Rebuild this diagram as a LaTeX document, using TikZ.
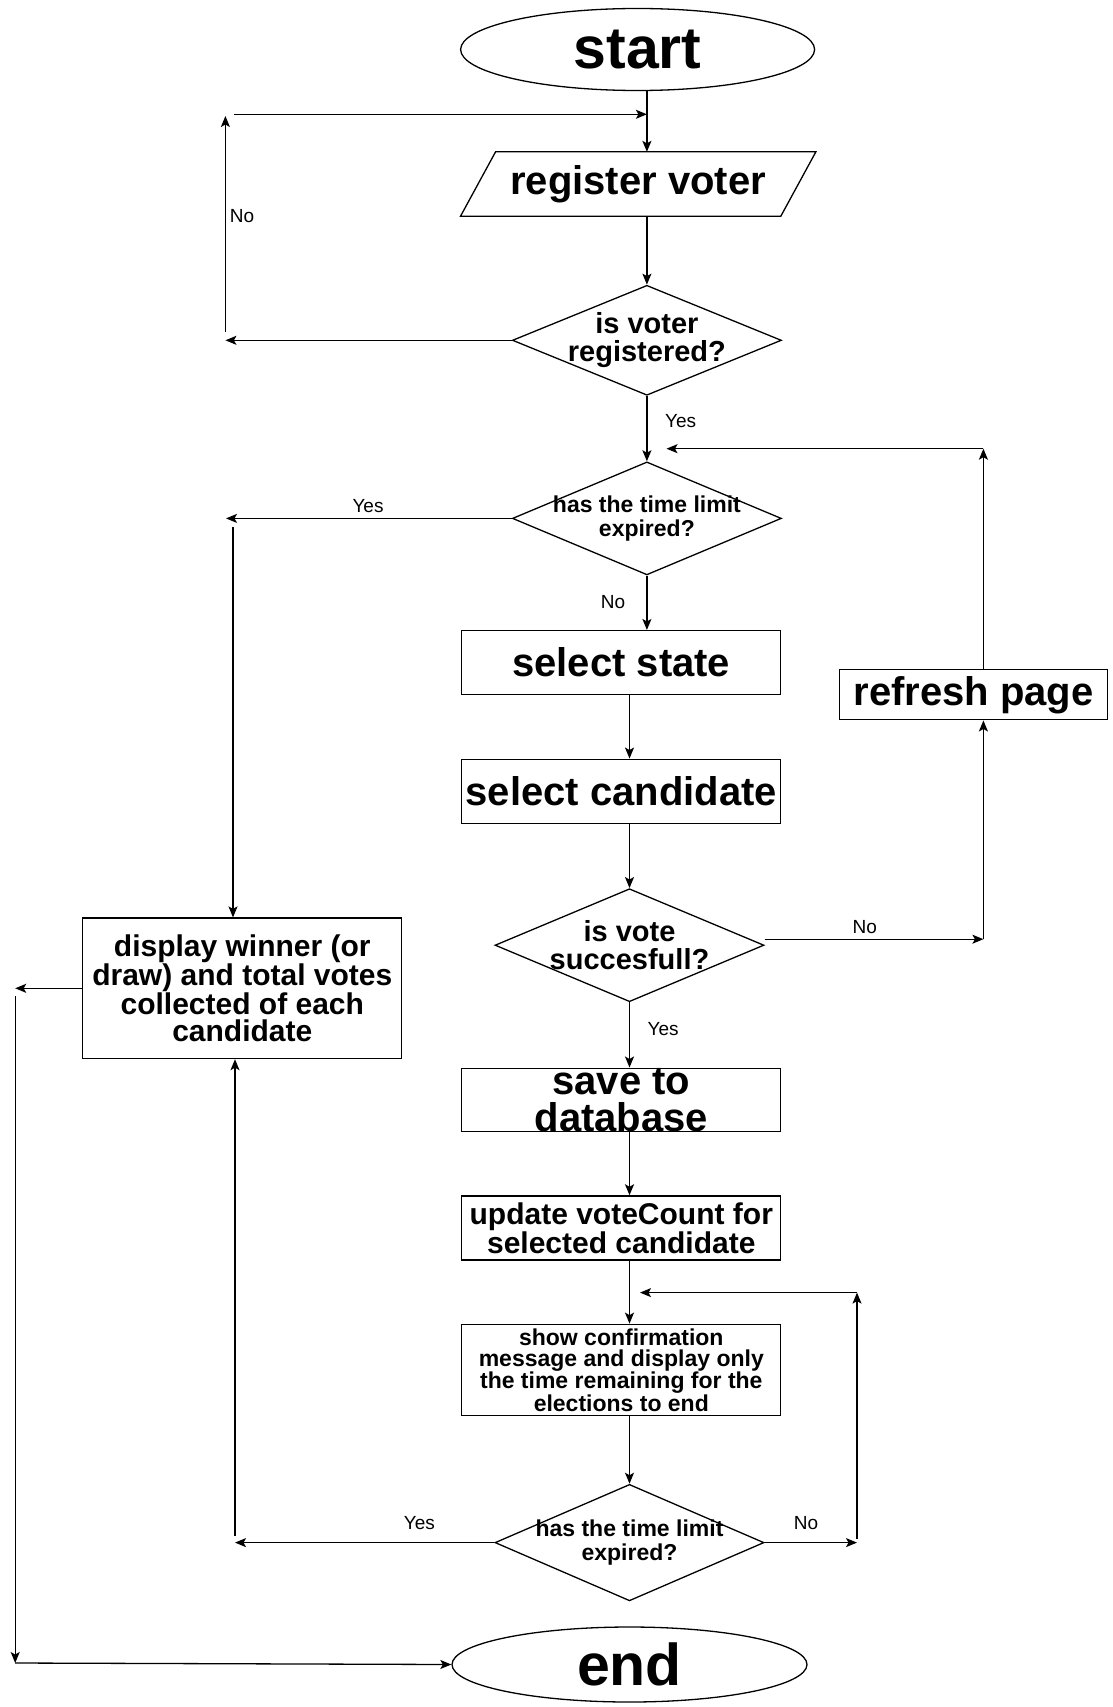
\documentclass[tikz,border=0pt]{standalone}
\usepackage{fontspec}
\setmainfont{Liberation Sans}
\usetikzlibrary{shapes.geometric,arrows.meta}
\begin{document}
\begin{tikzpicture}[x=1pt,y=-1pt,
  line width=1.3pt,
  arr/.style={-{Stealth[length=11pt,width=9pt,inset=2.5pt]}},
  procbox/.style={draw, rectangle, minimum width=319pt, inner sep=0pt, align=center},
  bigtxt/.style={font=\bfseries\fontsize{40}{37}\selectfont},
  midtxt/.style={font=\bfseries\fontsize{30}{27.5}\selectfont},
  smltxt/.style={font=\bfseries\fontsize{23}{21.2}\selectfont},
  term/.style={draw, ellipse, inner sep=0pt, font=\bfseries\fontsize{59}{59}\selectfont},
  dia/.style={draw, diamond, minimum width=269pt, inner sep=0pt},
  diatxtA/.style={font=\bfseries\fontsize{29}{28}\selectfont, align=center, inner sep=0pt},
  diatxtB/.style={font=\bfseries\fontsize{23}{24}\selectfont, align=center, inner sep=0pt},
  lbl/.style={font=\fontsize{19}{19}\selectfont, inner sep=0pt},
]
\useasboundingbox (0,0) rectangle (1113,1707);
\fill[white] (0,0) rectangle (1113,1707);

% nodes
\node[term, minimum width=354pt, minimum height=82pt] (start) at (637.6,49.5) {start};
\node[inner sep=0pt, minimum width=319pt, minimum height=63pt, bigtxt] (reg) at (638.2,184) {register voter};
\draw ([xshift=17.5pt]reg.north west) -- ([xshift=17.5pt]reg.north east)
   -- ([xshift=-17.5pt]reg.south east) -- ([xshift=-17.5pt]reg.south west) -- cycle;
\node[dia, minimum height=110pt, label={[diatxtA]center:is voter\\registered?}] (d1) at (646.9,340.3) {};
\node[dia, minimum height=113pt, label={[diatxtB]center:has the time limit\\expired?}] (d2) at (646.9,518.4) {};
\node[procbox, bigtxt, minimum height=64pt] (selstate) at (621.3,662.6) {select state};
\node[procbox, bigtxt, minimum height=64pt] (selcand) at (621.3,791.2) {select candidate};
\node[dia, minimum height=113pt, label={[diatxtA]center:is vote\\succesfull?}] (d3) at (629.5,945.2) {};
\node[procbox, bigtxt, minimum width=268pt, minimum height=50pt] (refresh) at (973.5,694.8) {refresh page};
\node[procbox, bigtxt, minimum height=63pt] (save) at (621.3,1099.9) {save to\\database};
\node[procbox, midtxt, minimum height=64pt] (update) at (621.3,1227.9) {update voteCount for\\selected candidate};
\node[procbox, smltxt, minimum height=91.5pt] (show) at (621.3,1370) {show confirmation\\message and display only\\the time remaining for the\\elections to end};
\node[dia, minimum height=116.5pt, label={[diatxtB]center:has the time limit\\expired?}] (d4) at (629.5,1542.6) {};
\node[term, minimum width=355pt, minimum height=75pt] (end) at (629.5,1664.5) {end};
\node[procbox, midtxt, minimum height=140.5pt] (display) at (242.3,988.3) {display winner (or\\draw) and total votes\\collected of each\\candidate};

% helper coordinates
\coordinate (L1b) at (225.4,332);
\coordinate (L1t) at (225.4,116);
\coordinate (T1s) at (234,114.3);
\coordinate (T1e) at (646.9,114.3);
\coordinate (Y2tip) at (226,518.4);
\coordinate (L2t) at (233,527);
\coordinate (R1b) at (983.4,939);
\coordinate (R1t) at (983.4,448.7);
\coordinate (R1tip) at (666.5,448.7);
\coordinate (R2b) at (857,1538.7);
\coordinate (R2t) at (857,1292.6);
\coordinate (R2tip) at (640,1292.6);
\coordinate (Y4tip) at (235,1542.6);
\coordinate (L3b) at (235,1535.5);
\coordinate (FLtip) at (15.2,989);
\coordinate (FLt) at (15.2,996);
\coordinate (FLb) at (15.2,1663);

% main flow
\draw[arr] (start.south -| d1.north) -- (reg.north -| d1.north);
\draw[arr] (reg.south -| d1.north) -- (d1.north);
\draw[arr] (d1.south) -- (d2.north);
\draw[arr] (d2.south) -- (d2.south |- selstate.north);
\draw[arr] (selstate.south -| d3.north) -- (selcand.north -| d3.north);
\draw[arr] (selcand.south -| d3.north) -- (d3.north);
\draw[arr] (d3.south) -- (d3.south |- save.north);
\draw[arr] (save.south -| d3.south) -- (update.north -| d3.south);
\draw[arr] (update.south -| d4.north) -- (show.north -| d4.north);
\draw[arr] (show.south -| d4.north) -- (d4.north);

% loop: not registered
\draw[arr] (d1.west) -- (d1.west -| L1b);
\draw[arr] (L1b) -- (L1t);
\draw[arr] (T1s) -- (T1e);

% time expired (first check)
\draw[arr] (d2.west) -- (d2.west -| Y2tip);
\draw[arr] (L2t) -- (L2t |- display.north);

% vote not successful -> refresh
\draw[arr] ([yshift=6pt]d3.east) -- ([yshift=6pt]d3.east -| R1b);
\draw[arr] (R1b) -- (R1b |- refresh.south);
\draw[arr] (refresh.north -| R1t) -- (R1t);
\draw[arr] (R1t) -- (R1tip);

% second check
\draw[arr] (d4.east) -- (d4.east -| R2b);
\draw[arr] (R2b) -- (R2t);
\draw[arr] (R2t) -- (R2tip);
\draw[arr] (d4.west) -- (d4.west -| Y4tip);
\draw[arr] (L3b) -- (L3b |- display.south);

% display -> end
\draw[arr] (display.west) -- (display.west -| FLtip);
\draw[arr] (FLt) -- (FLb);
\draw[arr] (FLb) -- (end.west);

% labels
\node[lbl] (lNo1) at (242,215.6) {No};
\node[lbl] (lYes1) at (680.6,421.4) {Yes};
\node[lbl] (lYes2) at (368,506.4) {Yes};
\node[lbl] (lNo2) at (613,602) {No};
\node[lbl] (lNo3) at (864.7,926.7) {No};
\node[lbl] (lYes3) at (663.2,1029) {Yes};
\node[lbl] (lYes4) at (419.3,1523.5) {Yes};
\node[lbl] (lNo4) at (806,1523.5) {No};
\end{tikzpicture}
\end{document}
